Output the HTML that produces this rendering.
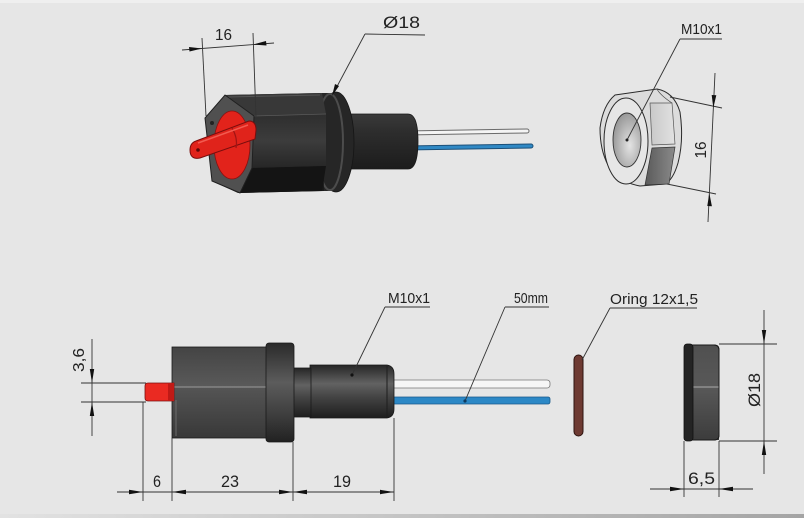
<!DOCTYPE html>
<html><head><meta charset="utf-8"><style>
html,body{margin:0;padding:0;width:804px;height:518px;overflow:hidden;background:#e6e6e6}
svg{display:block}
text{font-family:"Liberation Sans Narrow","Liberation Sans",sans-serif;fill:#222}
</style></head><body>
<svg width="804" height="518" viewBox="0 0 804 518" xmlns="http://www.w3.org/2000/svg">
<defs>
 <linearGradient id="bot" x1="0" y1="0" x2="1" y2="0"><stop offset="0" stop-color="#e2e2e2"/><stop offset="0.5" stop-color="#c4c4c4"/><stop offset="1" stop-color="#a4a4a4"/></linearGradient>
 <linearGradient id="cylV" x1="0" y1="0" x2="0" y2="1"><stop offset="0" stop-color="#262626"/><stop offset="0.35" stop-color="#626262"/><stop offset="0.6" stop-color="#444"/><stop offset="1" stop-color="#1e1e1e"/></linearGradient>
 <linearGradient id="collarV" x1="0" y1="0" x2="0" y2="1"><stop offset="0" stop-color="#2a2a2a"/><stop offset="0.4" stop-color="#5c5c5c"/><stop offset="0.7" stop-color="#404040"/><stop offset="1" stop-color="#222"/></linearGradient>
 <linearGradient id="bodyUp" x1="0" y1="0" x2="0" y2="1"><stop offset="0" stop-color="#444"/><stop offset="1" stop-color="#5a5a5a"/></linearGradient>
 <linearGradient id="bodyLo" x1="0" y1="0" x2="0" y2="1"><stop offset="0" stop-color="#555"/><stop offset="1" stop-color="#383838"/></linearGradient>
 <linearGradient id="nutUp" x1="0" y1="0" x2="0" y2="1"><stop offset="0" stop-color="#505050"/><stop offset="1" stop-color="#626262"/></linearGradient>
 <linearGradient id="nutLo" x1="0" y1="0" x2="0" y2="1"><stop offset="0" stop-color="#585858"/><stop offset="1" stop-color="#3c3c3c"/></linearGradient>
 <linearGradient id="faceL" x1="0" y1="0" x2="1" y2="0"><stop offset="0" stop-color="#c8c8c8"/><stop offset="1" stop-color="#e2e2e2"/></linearGradient>
 <linearGradient id="faceD" x1="0" y1="0" x2="1" y2="0"><stop offset="0" stop-color="#5a5a5a"/><stop offset="1" stop-color="#8a8a8a"/></linearGradient>
 <radialGradient id="hole" cx="0.6" cy="0.6" r="0.7"><stop offset="0" stop-color="#e4e4e4"/><stop offset="1" stop-color="#8e8e8e"/></radialGradient>
 <linearGradient id="midFace" x1="0" y1="0" x2="0" y2="1"><stop offset="0" stop-color="#2e2e2e"/><stop offset="0.5" stop-color="#3c3c3c"/><stop offset="1" stop-color="#262626"/></linearGradient>
 <linearGradient id="backCyl" x1="0" y1="0" x2="0" y2="1"><stop offset="0" stop-color="#3a3a3a"/><stop offset="0.3" stop-color="#2e2e2e"/><stop offset="1" stop-color="#1c1c1c"/></linearGradient>
</defs>

<rect x="0" y="0" width="804" height="518" fill="#e6e6e6"/>
<rect x="0" y="0" width="804" height="3" fill="#efefef"/>
<rect x="0" y="514" width="804" height="4" fill="url(#bot)"/>

<!-- TOP LEFT 3D SENSOR -->
<line x1="405" y1="133" x2="527" y2="131" stroke="#6a6a6a" stroke-width="5" stroke-linecap="round"/>
<line x1="405" y1="133" x2="527" y2="131" stroke="#f4f4f4" stroke-width="3" stroke-linecap="round"/>
<line x1="405" y1="148" x2="531" y2="146" stroke="#1b4f78" stroke-width="5" stroke-linecap="round"/>
<line x1="405" y1="148" x2="531" y2="146" stroke="#2f88c4" stroke-width="3" stroke-linecap="round"/>
<path d="M346,114 L408,114 Q418,114 418,141 Q418,169 408,169 L346,169 Z" fill="url(#backCyl)" stroke="#1a1a1a" stroke-width="0.8"/>
<ellipse cx="336" cy="142" rx="18" ry="50" fill="#262626" stroke="#151515" stroke-width="0.8"/>
<rect x="318" y="93" width="18" height="98" fill="#262626"/>
<ellipse cx="330" cy="142" rx="13" ry="48" fill="none" stroke="#4c4c4c" stroke-width="2"/>
<polygon points="225,95 322,93 324,191 238,193 212,181 205,118" fill="#1a1a1a"/>
<polygon points="225,95 322,93 326,114 254,116" fill="#383838"/>
<line x1="228" y1="97" x2="320" y2="95" stroke="#555" stroke-width="1"/>
<polygon points="254,116 326,114 326,166 252,168" fill="url(#midFace)"/>
<line x1="254" y1="116" x2="326" y2="114" stroke="#5a5a5a" stroke-width="0.8"/>
<polygon points="252,168 326,166 322,191 240,193" fill="#141414"/>
<polygon points="225,95 254,116 252,168 240,193 212,181 205,118" fill="#505050" stroke="#202020" stroke-width="1"/>
<ellipse cx="232" cy="145" rx="18" ry="34" fill="#e2231b" stroke="#8a1010" stroke-width="0.8"/>
<circle cx="212" cy="123" r="2" fill="#222"/>
<path d="M196,141 L249,121 Q256,121 256,130 L255,139 L200,158 Q190,160 190,150 Q190,143 196,141 Z" fill="#e0231b" stroke="#7a0d0d" stroke-width="1"/>
<path d="M232,128 Q238,138 236,148" fill="none" stroke="#a01414" stroke-width="1.2"/>
<path d="M198,143 L248,125" stroke="#f25a50" stroke-width="1.5"/>
<circle cx="198" cy="150" r="1.8" fill="#5a0808"/>
<line x1="202" y1="38" x2="206" y2="116" stroke="#333" stroke-width="0.9"/>
<line x1="253" y1="33" x2="256" y2="118" stroke="#333" stroke-width="0.9"/>
<line x1="182" y1="50" x2="274" y2="43" stroke="#333" stroke-width="0.9"/>
<polygon points="202,48.5 189,47 189.5,51.5" fill="#111"/>
<polygon points="253,44.5 266,41 266.5,45.5" fill="#111"/>
<text x="215" y="40" font-size="16" textLength="17" lengthAdjust="spacingAndGlyphs">16</text>
<line x1="365" y1="34" x2="425" y2="35" stroke="#333" stroke-width="0.9"/>
<line x1="365" y1="34" x2="333" y2="94" stroke="#333" stroke-width="0.9"/>
<polygon points="332,96 335,84 339,86" fill="#111"/>
<text x="383" y="28" font-size="17" textLength="37" lengthAdjust="spacingAndGlyphs">Ø18</text>

<!-- TOP RIGHT NUT -->
<path d="M615,95 L657,89 Q674,92 680,112 Q684,140 678,163 Q673,180 665,184 L640,186 Q618,182 608,165 Q600,150 600,128 Q603,105 615,95 Z" fill="#dcdcdc" stroke="#2a2a2a" stroke-width="1"/>
<polygon points="650,103 672,103 675,144 652,145" fill="url(#faceL)" stroke="#555" stroke-width="0.7"/>
<polygon points="652,148 675,147 669,184 645,185" fill="url(#faceD)" stroke="#333" stroke-width="0.7"/>
<path d="M657,89 Q660,95 672,103" fill="none" stroke="#444" stroke-width="0.7"/>
<ellipse cx="626" cy="141" rx="22" ry="43" fill="#e6e6e6" stroke="#2a2a2a" stroke-width="1"/>
<ellipse cx="627" cy="140" rx="14" ry="27" fill="url(#hole)" stroke="#333" stroke-width="0.9"/>
<line x1="680" y1="39" x2="722" y2="39" stroke="#333" stroke-width="0.9"/>
<line x1="680" y1="39" x2="627" y2="140" stroke="#333" stroke-width="0.9"/>
<circle cx="627" cy="140" r="1.5" fill="#222"/>
<text x="681" y="34" font-size="15" textLength="41" lengthAdjust="spacingAndGlyphs">M10x1</text>
<line x1="670" y1="97" x2="722" y2="108" stroke="#333" stroke-width="0.9"/>
<line x1="667" y1="184" x2="716" y2="194" stroke="#333" stroke-width="0.9"/>
<line x1="715" y1="73" x2="708" y2="222" stroke="#333" stroke-width="0.9"/>
<polygon points="713.3,108 711.7,95 716.3,95.2" fill="#111"/>
<polygon points="709.3,193 707.3,206 711.9,206.2" fill="#111"/>
<text transform="translate(706,150) rotate(-90)" text-anchor="middle" font-size="16" textLength="17" lengthAdjust="spacingAndGlyphs">16</text>

<!-- BOTTOM LEFT SIDE VIEW -->
<rect x="390" y="380" width="160" height="8" rx="3" fill="#f6f6f6" stroke="#777" stroke-width="0.8"/>
<rect x="390" y="397" width="160" height="7" rx="2" fill="#2c88c6" stroke="#1a5a8a" stroke-width="0.8"/>
<path d="M310,365 L387,365 Q394,366 394,374 L394,409 Q394,417 387,418 L310,418 Z" fill="url(#cylV)" stroke="#1a1a1a" stroke-width="0.8"/>
<line x1="387" y1="366" x2="387" y2="417" stroke="#1e1e1e" stroke-width="1"/>
<rect x="292" y="368" width="19" height="49" fill="url(#cylV)" stroke="#1a1a1a" stroke-width="0.8"/>
<rect x="172" y="347" width="97" height="40" fill="url(#bodyUp)" stroke="#1a1a1a" stroke-width="0.8"/>
<rect x="172" y="387" width="97" height="51" fill="url(#bodyLo)" stroke="#1a1a1a" stroke-width="0.8"/>
<line x1="172" y1="387" x2="269" y2="387" stroke="#9a9a9a" stroke-width="1"/>
<line x1="176" y1="400" x2="176" y2="436" stroke="#777" stroke-width="0.8"/>
<rect x="266" y="343" width="28" height="99" rx="3" fill="url(#collarV)" stroke="#1a1a1a" stroke-width="0.8"/>
<path d="M148,383 L174,383 L174,401 L148,401 Q145,401 145,398 L145,386 Q145,383 148,383 Z" fill="#ea2a22" stroke="#7a1010" stroke-width="0.8"/>
<rect x="168" y="383" width="6" height="18" fill="#c01a16"/>
<line x1="385" y1="307" x2="430" y2="307" stroke="#333" stroke-width="0.9"/>
<line x1="385" y1="307" x2="352" y2="375" stroke="#333" stroke-width="0.9"/>
<circle cx="352" cy="375" r="1.6" fill="#111"/>
<text x="388" y="303" font-size="15" textLength="42" lengthAdjust="spacingAndGlyphs">M10x1</text>
<line x1="505" y1="307" x2="549" y2="307" stroke="#333" stroke-width="0.9"/>
<line x1="505" y1="307" x2="465" y2="401" stroke="#333" stroke-width="0.9"/>
<circle cx="465" cy="401" r="1.6" fill="#0d3a5e"/>
<text x="514" y="303" font-size="15" textLength="34" lengthAdjust="spacingAndGlyphs">50mm</text>
<line x1="92" y1="339" x2="92" y2="436" stroke="#333" stroke-width="0.9"/>
<line x1="81" y1="383" x2="146" y2="383" stroke="#333" stroke-width="0.9"/>
<line x1="81" y1="402" x2="146" y2="402" stroke="#333" stroke-width="0.9"/>
<polygon points="92,383 89.8,369 94.2,369" fill="#111"/>
<polygon points="92,402 89.8,416 94.2,416" fill="#111"/>
<text transform="translate(84,360) rotate(-90)" text-anchor="middle" font-size="16" textLength="24" lengthAdjust="spacingAndGlyphs">3,6</text>
<line x1="143" y1="402" x2="143" y2="501" stroke="#333" stroke-width="0.9"/>
<line x1="172" y1="438" x2="172" y2="501" stroke="#333" stroke-width="0.9"/>
<line x1="293" y1="442" x2="293" y2="501" stroke="#333" stroke-width="0.9"/>
<line x1="394" y1="418" x2="394" y2="501" stroke="#333" stroke-width="0.9"/>
<line x1="117" y1="492" x2="394" y2="492" stroke="#333" stroke-width="0.9"/>
<polygon points="143,492 129,489.8 129,494.2" fill="#111"/>
<polygon points="172,492 186,489.8 186,494.2" fill="#111"/>
<polygon points="293,492 279,489.8 279,494.2" fill="#111"/>
<polygon points="293,492 307,489.8 307,494.2" fill="#111"/>
<polygon points="394,492 380,489.8 380,494.2" fill="#111"/>
<text x="153" y="487" font-size="17" textLength="8" lengthAdjust="spacingAndGlyphs">6</text>
<text x="221" y="487" font-size="17" textLength="18" lengthAdjust="spacingAndGlyphs">23</text>
<text x="333" y="487" font-size="17" textLength="18" lengthAdjust="spacingAndGlyphs">19</text>

<!-- BOTTOM RIGHT -->
<rect x="574" y="355" width="9" height="81" rx="4.5" fill="#6e3a32" stroke="#2e1410" stroke-width="1"/>
<line x1="610" y1="308" x2="697" y2="308" stroke="#333" stroke-width="0.9"/>
<line x1="610" y1="308" x2="582" y2="360" stroke="#333" stroke-width="0.9"/>
<text x="610" y="304" font-size="15" textLength="88" lengthAdjust="spacingAndGlyphs">Oring 12x1,5</text>
<path d="M692,345 L714,345 Q719,345 719,350 L719,435 Q719,440 714,440 L692,440 Z" fill="url(#nutUp)" stroke="#1a1a1a" stroke-width="0.9"/>
<rect x="692" y="388" width="27" height="52" fill="url(#nutLo)"/>
<line x1="692" y1="387" x2="719" y2="387" stroke="#9a9a9a" stroke-width="1.2"/>
<path d="M692,345 L714,345 Q719,345 719,350 L719,435 Q719,440 714,440 L692,440" fill="none" stroke="#1a1a1a" stroke-width="0.9"/>
<rect x="684" y="344" width="9" height="97" rx="3" fill="#242424" stroke="#111" stroke-width="0.8"/>
<line x1="719" y1="344" x2="777" y2="344" stroke="#333" stroke-width="0.9"/>
<line x1="719" y1="441" x2="777" y2="441" stroke="#333" stroke-width="0.9"/>
<line x1="764" y1="310" x2="764" y2="474" stroke="#333" stroke-width="0.9"/>
<polygon points="764,344 761.8,330 766.2,330" fill="#111"/>
<polygon points="764,441 761.8,455 766.2,455" fill="#111"/>
<text transform="translate(760,390) rotate(-90)" text-anchor="middle" font-size="17" textLength="34" lengthAdjust="spacingAndGlyphs">Ø18</text>
<line x1="684" y1="441" x2="684" y2="497" stroke="#333" stroke-width="0.9"/>
<line x1="719" y1="441" x2="719" y2="497" stroke="#333" stroke-width="0.9"/>
<line x1="650" y1="489" x2="753" y2="489" stroke="#333" stroke-width="0.9"/>
<polygon points="684,489 670,486.8 670,491.2" fill="#111"/>
<polygon points="719,489 733,486.8 733,491.2" fill="#111"/>
<text x="688" y="484" font-size="17" textLength="27" lengthAdjust="spacingAndGlyphs">6,5</text>
</svg>
</body></html>
